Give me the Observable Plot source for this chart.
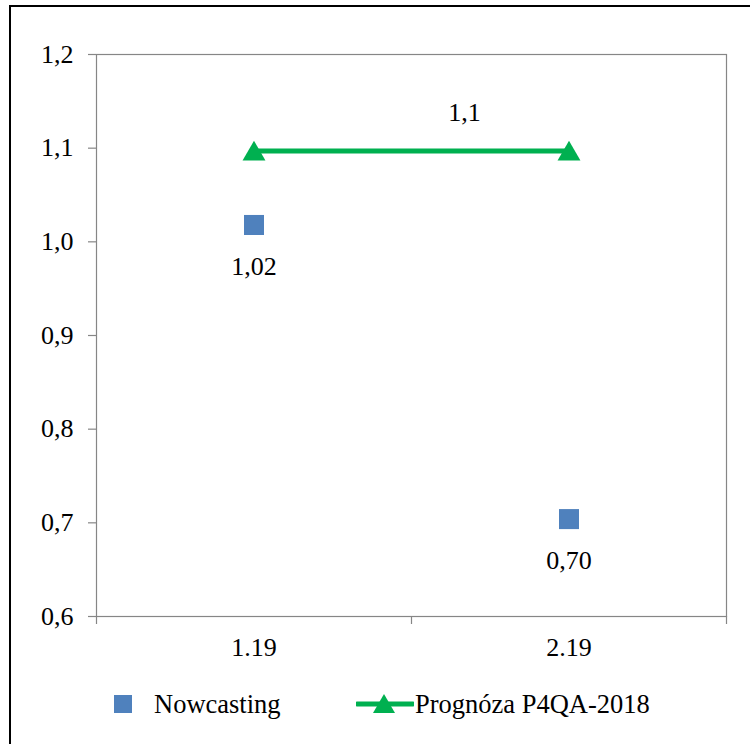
<!DOCTYPE html>
<html>
<head>
<meta charset="utf-8">
<script src="https://cdn.jsdelivr.net/npm/d3@7"></script>
<script src="https://cdn.jsdelivr.net/npm/@observablehq/plot@0.6"></script>
<style>
  html, body { margin: 0; padding: 0; background: #fff; overflow: hidden; width: 750px; height: 744px; }
  #frame { position: absolute; left: 9px; top: 5px; width: 800px; height: 800px; border: 2px solid #000; box-sizing: border-box; }
  #chart { position: absolute; left: 0; top: 0; }
  #chart svg text { font-family: "Liberation Serif", "DejaVu Serif", serif !important; }
  #legend { position: absolute; left: 0; top: 686px; width: 750px; height: 36px; font-family: "Liberation Serif", "DejaVu Serif", serif; font-size: 26.5px; color: #000; }
  .item { position: absolute; top: 0; height: 36px; display: flex; align-items: center; }
</style>
</head>
<body>
<div id="frame"></div>
<div id="chart"></div>
<div id="legend">
  <div class="item" style="left:114px;">
    <svg width="18" height="18" style="display:block"><rect x="0" y="0" width="18" height="18" fill="#4F81BD"/></svg>
    <span style="margin-left:22px;">Nowcasting</span>
  </div>
  <div class="item" style="left:356px;">
    <svg width="58" height="24" style="display:block"><line x1="1" y1="12" x2="57" y2="12" stroke="#00B050" stroke-width="5" stroke-linecap="round"/><path d="M28,2 L39,21 L17,21 Z" fill="#00B050"/></svg>
    <span style="margin-left:1px;">Prognóza P4QA-2018</span>
  </div>
</div>
<script>
const categories = ["1.19", "2.19"];
const nowcasting = [1.018, 0.704];
const prognoza = [1.097, 1.097];
const yTicks = [0.6, 0.7, 0.8, 0.9, 1.0, 1.1, 1.2];

const comma = (v, d) => v.toFixed(d).replace(".", ",");
const pos = categories.map((c, i) => i + 0.5);
const nowData = categories.map((c, i) => ({x: pos[i], y: nowcasting[i]}));
const progData = categories.map((c, i) => ({x: pos[i], y: prognoza[i]}));

const font = "'Liberation Serif', 'DejaVu Serif', serif";
const gray = "#868686";

const chart = Plot.plot({
  width: 750,
  height: 650,
  marginLeft: 96,
  marginRight: 24,
  marginTop: 54,
  marginBottom: 34,
  style: {fontFamily: font, fontSize: "26px", color: "#000", background: "transparent", overflow: "visible"},
  x: {type: "linear", domain: [0, categories.length], axis: null},
  y: {domain: [0.6, 1.2], axis: null},
  marks: [
    Plot.frame({stroke: gray, strokeWidth: 1.2}),
    Plot.axisY({ticks: yTicks, label: null, tickSize: 8, tickPadding: 15, tickFormat: d => comma(d, 1), stroke: gray, strokeWidth: 1.2, fill: "#000"}),
    Plot.axisX({ticks: d3.range(categories.length + 1), label: null, tickSize: 8, text: null, stroke: gray, strokeWidth: 1.2}),
    Plot.axisX({ticks: pos, label: null, tickSize: 0, tickPadding: 21, tickFormat: (d, i) => categories[i], fill: "#000"}),
    Plot.line(progData, {x: "x", y: "y", stroke: "#00B050", strokeWidth: 5}),
    Plot.dot(progData, {x: "x", y: "y", symbol: "triangle", r: 8.5, fill: "#00B050", stroke: "none", dy: 3}),
    Plot.text([progData[1]], {x: () => 1, y: "y", text: d => comma(d.y, 1), dx: 53, dy: -38, fill: "#000"}),
    Plot.dot(nowData, {x: "x", y: "y", symbol: "square", r: 11.3, fill: "#4F81BD", stroke: "none"}),
    Plot.text(nowData, {x: "x", y: "y", text: d => comma(d.y, 2), dy: 42, fill: "#000"})
  ]
});
document.getElementById("chart").appendChild(chart);
</script>
</body>
</html>
